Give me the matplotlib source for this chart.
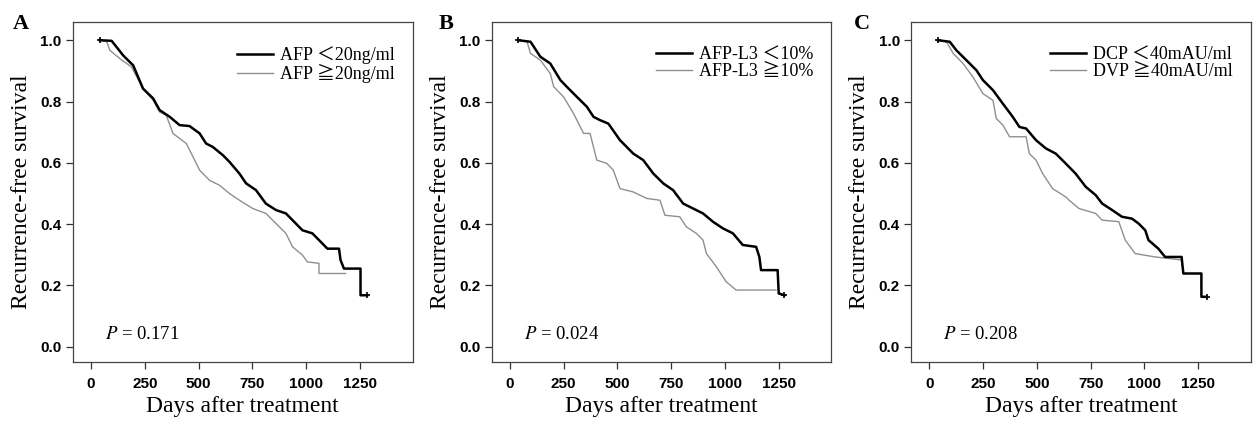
import numpy as np
import matplotlib.pyplot as plt

plt.rcParams['mathtext.fontset'] = 'stix'

# Panel A: AFP
afp_lo_t = [42, 96, 150, 196, 242, 289, 319, 366, 412, 458, 505, 535, 566, 613, 644, 690, 721, 767, 813, 860,
            906, 937, 983, 1029, 1060, 1099, 1153, 1160, 1176, 1253, 1253, 1284]
afp_lo_s = [1.0, 0.998, 0.95, 0.918, 0.842, 0.81, 0.772, 0.75, 0.723, 0.72, 0.696, 0.663, 0.652, 0.625, 0.603,
            0.565, 0.533, 0.511, 0.467, 0.446, 0.435, 0.413, 0.38, 0.37, 0.348, 0.32, 0.32, 0.283, 0.255, 0.255,
            0.168, 0.168]
afp_hi_t = [42, 73, 88, 134, 188, 242, 289, 319, 350, 381, 443, 474, 505, 551, 597, 644, 690, 752, 813, 860,
            906, 937, 983, 1006, 1060, 1060, 1184]
afp_hi_s = [1.0, 0.995, 0.967, 0.94, 0.913, 0.842, 0.804, 0.766, 0.755, 0.696, 0.663, 0.62, 0.576, 0.543, 0.527,
            0.5, 0.478, 0.451, 0.435, 0.402, 0.37, 0.326, 0.299, 0.277, 0.272, 0.239, 0.239]

# Panel B: AFP-L3
l3_lo_t = [40, 96, 142, 188, 235, 265, 312, 358, 389, 420, 458, 512, 574, 620, 667, 713, 759, 806, 852, 898,
           944, 991, 1037, 1083, 1145, 1160, 1168, 1245, 1250, 1276]
l3_lo_s = [1.0, 0.995, 0.946, 0.924, 0.87, 0.848, 0.815, 0.783, 0.75, 0.739, 0.728, 0.674, 0.63, 0.609, 0.565,
           0.533, 0.511, 0.467, 0.451, 0.435, 0.408, 0.386, 0.37, 0.332, 0.326, 0.293, 0.25, 0.25, 0.174, 0.168]
l3_hi_t = [40, 80, 96, 142, 188, 204, 250, 296, 343, 373, 404, 451, 481, 512, 574, 636, 698, 721, 790, 821,
           867, 898, 914, 960, 1006, 1052, 1237]
l3_hi_s = [1.0, 0.995, 0.957, 0.935, 0.891, 0.848, 0.815, 0.761, 0.696, 0.696, 0.609, 0.598, 0.576, 0.516,
           0.505, 0.484, 0.478, 0.429, 0.424, 0.391, 0.37, 0.348, 0.304, 0.261, 0.212, 0.185, 0.185]

# Panel C: DCP
dcp_lo_t = [40, 95, 126, 172, 219, 249, 296, 342, 388, 419, 450, 496, 542, 588, 634, 680, 727, 773, 804, 850,
            896, 942, 973, 1004, 1019, 1065, 1096, 1173, 1181, 1265, 1265, 1289]
dcp_lo_s = [1.0, 0.995, 0.967, 0.935, 0.902, 0.87, 0.837, 0.793, 0.75, 0.717, 0.712, 0.674, 0.647, 0.63, 0.598,
            0.565, 0.522, 0.495, 0.467, 0.446, 0.424, 0.418, 0.402, 0.38, 0.348, 0.32, 0.293, 0.293, 0.239, 0.239,
            0.163, 0.163]
dcp_hi_t = [40, 80, 111, 157, 203, 249, 296, 311, 342, 373, 450, 465, 496, 527, 573, 634, 650, 696, 773, 804,
            881, 911, 957, 1050, 1173, 1181]
dcp_hi_s = [1.0, 0.995, 0.957, 0.924, 0.88, 0.826, 0.804, 0.745, 0.723, 0.685, 0.685, 0.63, 0.609, 0.565,
            0.516, 0.489, 0.478, 0.451, 0.435, 0.413, 0.408, 0.348, 0.304, 0.293, 0.283, 0.239]

panels = [
    ('A', afp_lo_t, afp_lo_s, afp_hi_t, afp_hi_s, 'AFP \uff1c20ng/ml', 'AFP \u226720ng/ml', '0.171'),
    ('B', l3_lo_t, l3_lo_s, l3_hi_t, l3_hi_s, 'AFP-L3 \uff1c10%', 'AFP-L3 \u226710%', '0.024'),
    ('C', dcp_lo_t, dcp_lo_s, dcp_hi_t, dcp_hi_s, 'DCP \uff1c40mAU/ml', 'DVP \u226740mAU/ml', '0.208'),
]
lefts = [0.058, 0.392, 0.7265]
letter_x = [0.010, 0.350, 0.681]

serif = ['Liberation Serif', 'Noto Sans CJK JP', 'DejaVu Serif']

fig = plt.figure(figsize=(12.54, 4.28), dpi=100)

for i, (tag, t1, s1, t2, s2, lab1, lab2, p) in enumerate(panels):
    ax = fig.add_axes([lefts[i], 0.154, 0.271, 0.795])
    ax.plot(t2, s2, color='#8f8f8f', lw=1.0, label=lab2, zorder=2)
    ax.plot(t1, s1, color='black', lw=1.8, label=lab1, zorder=3)
    ax.plot([t1[0], t1[-1]], [s1[0], s1[-1]], '+', color='black', ms=5, mew=1.2)

    ax.set_xlim(-85, 1495)
    ax.set_ylim(-0.05, 1.06)
    ax.set_xticks(np.arange(0, 1251, 250))
    ax.set_yticks(np.arange(0, 1.01, 0.2))
    ax.set_yticklabels(['%.1f' % v for v in np.arange(0, 1.01, 0.2)])
    for lbl in ax.get_xticklabels() + ax.get_yticklabels():
        lbl.set_fontfamily('Liberation Sans')
        lbl.set_fontweight('bold')
        lbl.set_fontsize(11)
    ax.tick_params(axis='both', length=5, width=0.9, color='#333333')
    ax.tick_params(axis='x', pad=6)
    ax.tick_params(axis='y', pad=3)
    for sp in ax.spines.values():
        sp.set_color('#444444')
        sp.set_linewidth(0.9)

    ax.set_xlabel('Days after treatment', fontsize=17, family=serif)
    ax.set_ylabel('Recurrence-free survival', fontsize=17, family=serif)
    ax.xaxis.set_label_coords(0.5, -0.1)
    ax.yaxis.set_label_coords(-0.12, 0.5)

    h, l = ax.get_legend_handles_labels()
    ax.legend([h[1], h[0]], [l[1], l[0]], loc='upper right', bbox_to_anchor=(0.985, 0.965),
              frameon=False, prop={'family': serif, 'size': 13}, handlelength=2.0,
              handletextpad=0.4, labelspacing=0.0, borderaxespad=0.3)

    ax.text(0.095, 0.08, r'$P$ = ' + p, transform=ax.transAxes, fontsize=13.5,
            family=serif, va='center')
    fig.text(letter_x[i], 0.945, tag, fontsize=16, fontweight='bold', family=serif, va='center')

fig.savefig('out.png', dpi=100)
